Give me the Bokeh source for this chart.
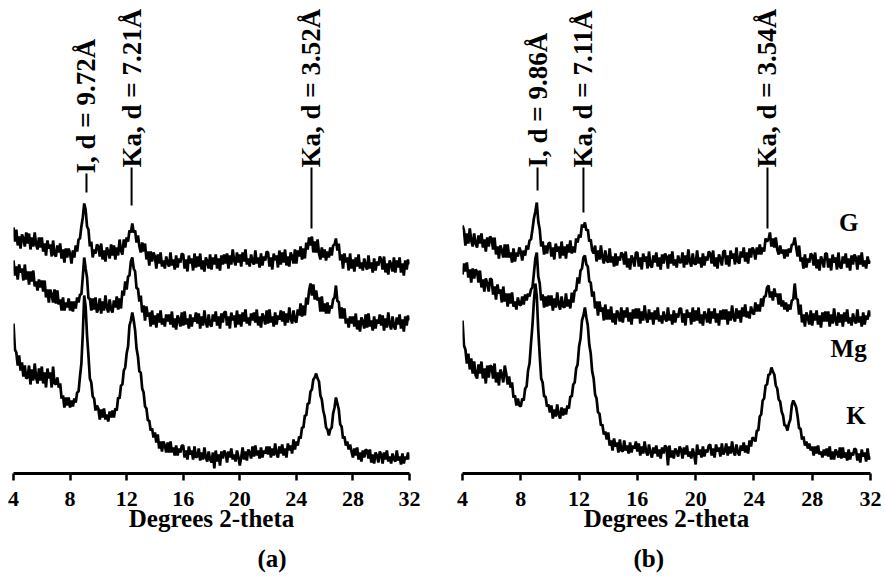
import numpy as np
from bokeh.plotting import figure
from bokeh.layouts import row
from bokeh.models import Range1d, FixedTicker, Title
from bokeh.embed import file_html
from bokeh.resources import INLINE
from bokeh.core.properties import value

# sampling grid, degrees 2-theta (step 0.1, 4.0 ... 32.0)
two_theta = np.round(np.arange(4.0, 32.0001, 0.1), 1)

# ---- panel (a): intensities (arbitrary units) ----
g_a = [246, 232, 244, 228, 237, 225, 239, 235, 227, 241,
       230, 240, 224, 236, 227, 241, 229, 224, 236, 226,
       236, 222, 230, 218, 233, 225, 229, 217, 233, 219,
       217, 228, 221, 230, 215, 224, 211, 225, 216, 225,
       220, 210, 223, 216, 228, 222, 234, 235, 247, 256,
       270, 264, 247, 244, 227, 232, 216, 224, 220, 229,
       227, 217, 230, 214, 223, 212, 226, 222, 215, 229,
       218, 228, 214, 226, 218, 234, 223, 219, 234, 226,
       236, 232, 243, 241, 250, 241, 243, 231, 238, 227,
       221, 231, 222, 230, 214, 222, 208, 222, 212, 221,
       217, 205, 219, 210, 221, 207, 213, 205, 217, 210,
       207, 221, 208, 214, 204, 218, 206, 215, 211, 220,
       219, 205, 214, 202, 218, 210, 215, 203, 220, 206,
       217, 207, 220, 204, 213, 202, 216, 212, 205, 219,
       204, 216, 209, 219, 205, 215, 203, 218, 209, 219,
       210, 220, 205, 218, 209, 224, 213, 208, 221, 211,
       219, 207, 221, 212, 224, 209, 215, 207, 219, 212,
       209, 223, 210, 216, 206, 220, 208, 217, 213, 222,
       221, 207, 216, 204, 220, 213, 218, 206, 223, 209,
       221, 211, 224, 208, 217, 207, 221, 217, 210, 224,
       210, 223, 217, 227, 214, 225, 215, 231, 224, 236,
       228, 237, 221, 232, 221, 234, 220, 214, 226, 216,
       224, 213, 222, 216, 226, 218, 228, 229, 235, 223,
       230, 213, 219, 205, 220, 211, 216, 203, 220, 205,
       214, 202, 216, 207, 219, 205, 211, 203, 215, 208,
       204, 218, 205, 211, 201, 215, 203, 212, 208, 217,
       214, 204, 217, 201, 210, 199, 213, 209, 202, 216,
       201, 213, 206, 216, 201, 210, 198, 213, 204, 214,
       209]
mg_a = [213, 198, 207, 194, 209, 201, 205, 193, 209, 194,
        202, 189, 202, 192, 203, 187, 192, 183, 194, 186,
        193, 182, 193, 176, 184, 171, 184, 179, 171, 184,
        170, 183, 169, 174, 163, 176, 163, 171, 166, 175,
        163, 172, 162, 172, 165, 176, 171, 179, 179, 197,
        216, 205, 196, 175, 175, 163, 175, 164, 176, 161,
        165, 175, 160, 172, 163, 178, 166, 161, 174, 164,
        161, 173, 166, 177, 164, 175, 165, 183, 178, 192,
        184, 197, 198, 212, 216, 205, 202, 185, 185, 172,
        178, 161, 168, 153, 167, 157, 161, 147, 163, 149,
        158, 146, 160, 151, 163, 149, 155, 147, 159, 152,
        159, 149, 162, 146, 155, 144, 158, 154, 147, 161,
        148, 162, 149, 155, 145, 159, 147, 156, 152, 161,
        150, 160, 145, 157, 148, 163, 151, 146, 159, 149,
        147, 159, 152, 162, 148, 157, 145, 160, 151, 161,
        162, 148, 157, 145, 161, 153, 158, 146, 163, 149,
        159, 147, 161, 152, 164, 150, 156, 148, 160, 153,
        161, 151, 164, 148, 157, 146, 160, 156, 149, 163,
        150, 164, 151, 157, 147, 161, 149, 158, 154, 163,
        152, 162, 148, 160, 151, 166, 155, 150, 163, 153,
        151, 164, 158, 170, 157, 168, 158, 176, 169, 183,
        190, 178, 189, 174, 183, 173, 176, 162, 177, 162,
        170, 160, 171, 160, 168, 165, 174, 176, 188, 172,
        172, 155, 166, 155, 165, 150, 155, 146, 157, 150,
        157, 147, 160, 144, 153, 142, 156, 152, 145, 159,
        146, 160, 147, 153, 143, 157, 145, 154, 150, 159,
        148, 158, 143, 155, 146, 161, 149, 144, 157, 147,
        144, 156, 149, 159, 145, 154, 142, 157, 148, 158,
        153]
k_a = [150, 124, 121, 108, 118, 103, 111, 97, 108, 95,
       96, 108, 89, 104, 93, 110, 96, 90, 105, 93,
       107, 90, 101, 86, 105, 95, 101, 86, 107, 90,
       89, 96, 86, 90, 75, 78, 66, 76, 68, 76,
       66, 73, 67, 75, 71, 81, 82, 97, 110, 140,
       178, 167, 138, 118, 95, 91, 77, 75, 63, 68,
       65, 54, 64, 56, 65, 54, 59, 52, 62, 56,
       63, 56, 65, 63, 76, 75, 88, 89, 103, 106,
       120, 127, 148, 153, 161, 153, 143, 125, 117, 102,
       101, 85, 81, 67, 65, 53, 53, 43, 45, 36,
       41, 31, 39, 25, 32, 22, 32, 28, 21, 31,
       21, 32, 21, 26, 18, 28, 18, 25, 21, 28,
       28, 16, 23, 14, 27, 19, 23, 14, 27, 16,
       17, 25, 13, 21, 14, 26, 16, 12, 22, 14,
       11, 21, 5, 23, 12, 19, 8, 22, 15, 23,
       20, 11, 22, 16, 25, 14, 19, 12, 23, 17,
       8, 16, 26, 14, 22, 13, 24, 21, 15, 27,
       17, 28, 18, 23, 15, 26, 16, 23, 20, 27,
       19, 27, 16, 25, 18, 30, 20, 16, 27, 20,
       29, 18, 25, 16, 30, 23, 28, 20, 34, 24,
       32, 28, 37, 35, 46, 46, 58, 58, 70, 70,
       82, 84, 94, 96, 100, 95, 92, 78, 74, 63,
       57, 46, 44, 38, 44, 46, 60, 66, 76, 70,
       64, 49, 47, 35, 37, 28, 32, 24, 29, 22,
       16, 25, 18, 26, 14, 21, 12, 23, 16, 24,
       23, 15, 24, 11, 19, 10, 21, 18, 11, 22,
       19, 10, 21, 14, 23, 12, 17, 10, 20, 14,
       12, 23, 13, 17, 9, 20, 10, 17, 14, 21,
       14]

# ---- panel (b) ----
g_b = [248, 243, 228, 240, 230, 245, 233, 227, 240, 230,
       226, 238, 230, 240, 226, 234, 222, 236, 227, 237,
       235, 224, 236, 219, 227, 215, 228, 223, 216, 229,
       216, 229, 216, 221, 211, 225, 212, 221, 217, 226,
       222, 213, 223, 218, 228, 224, 233, 234, 244, 255,
       262, 271, 252, 244, 227, 232, 219, 228, 220, 230,
       231, 217, 226, 214, 230, 222, 227, 215, 232, 218,
       227, 215, 229, 221, 233, 220, 227, 221, 235, 231,
       239, 236, 249, 246, 251, 243, 244, 232, 234, 223,
       220, 228, 212, 223, 214, 228, 216, 210, 223, 213,
       211, 225, 211, 217, 207, 220, 208, 217, 213, 221,
       219, 209, 222, 206, 215, 204, 218, 214, 207, 221,
       221, 207, 216, 204, 220, 212, 217, 205, 222, 208,
       206, 218, 211, 221, 207, 216, 204, 219, 210, 220,
       217, 205, 219, 210, 222, 208, 214, 206, 218, 211,
       211, 221, 206, 218, 209, 224, 212, 207, 220, 210,
       209, 223, 210, 216, 206, 220, 208, 217, 213, 222,
       220, 210, 223, 207, 216, 205, 219, 215, 208, 222,
       223, 209, 218, 207, 223, 215, 220, 209, 226, 212,
       210, 222, 216, 226, 212, 221, 210, 225, 216, 226,
       223, 214, 226, 219, 229, 219, 226, 222, 235, 232,
       234, 241, 227, 235, 226, 236, 224, 219, 228, 220,
       224, 215, 224, 217, 225, 221, 229, 229, 236, 226,
       217, 228, 212, 216, 205, 219, 206, 215, 211, 220,
       218, 208, 221, 205, 214, 203, 217, 213, 206, 220,
       220, 206, 215, 203, 219, 211, 216, 204, 221, 207,
       205, 217, 210, 220, 206, 215, 203, 218, 209, 219,
       216, 204, 218, 209, 221, 207, 213, 205, 217, 210,
       213]
mg_b = [199, 210, 202, 211, 196, 204, 191, 205, 195, 204,
        202, 191, 203, 186, 194, 182, 195, 190, 182, 195,
        194, 179, 187, 174, 189, 180, 184, 171, 187, 172,
        180, 167, 180, 170, 181, 167, 172, 164, 176, 169,
        168, 177, 169, 179, 173, 180, 177, 184, 186, 200,
        215, 221, 197, 190, 173, 179, 166, 177, 167, 178,
        168, 178, 163, 175, 166, 181, 169, 164, 177, 167,
        166, 180, 167, 174, 165, 181, 171, 183, 183, 196,
        190, 203, 205, 216, 218, 209, 207, 192, 191, 177,
        182, 165, 172, 158, 172, 162, 166, 153, 169, 154,
        164, 154, 167, 151, 160, 149, 163, 159, 152, 166,
        151, 163, 156, 166, 152, 161, 149, 164, 155, 165,
        155, 165, 150, 162, 153, 168, 156, 151, 164, 154,
        161, 149, 163, 154, 166, 152, 158, 150, 162, 155,
        152, 166, 153, 159, 149, 163, 151, 160, 156, 165,
        165, 151, 160, 148, 164, 156, 161, 149, 166, 152,
        163, 153, 166, 150, 159, 148, 162, 158, 151, 165,
        150, 162, 155, 165, 151, 160, 148, 163, 154, 164,
        154, 164, 149, 162, 153, 168, 156, 152, 165, 155,
        163, 151, 166, 157, 169, 156, 162, 155, 167, 161,
        159, 171, 162, 169, 162, 175, 167, 177, 177, 186,
        188, 176, 182, 173, 185, 177, 180, 169, 180, 167,
        173, 164, 171, 162, 169, 164, 173, 174, 190, 175,
        174, 159, 169, 151, 159, 147, 161, 156, 149, 163,
        148, 160, 153, 163, 149, 158, 146, 161, 152, 162,
        152, 162, 147, 159, 150, 165, 153, 148, 161, 151,
        159, 147, 161, 152, 164, 150, 156, 148, 160, 153,
        150, 164, 151, 157, 147, 161, 149, 158, 154, 163,
        157]
k_b = [153, 128, 124, 110, 120, 104, 115, 100, 112, 98,
       95, 109, 100, 112, 95, 105, 90, 108, 96, 108,
       107, 95, 110, 91, 101, 88, 104, 99, 91, 108,
       100, 89, 97, 86, 91, 76, 78, 68, 75, 68,
       67, 75, 73, 85, 87, 103, 110, 130, 148, 172,
       190, 177, 143, 118, 95, 91, 77, 77, 67, 69,
       61, 68, 55, 64, 57, 69, 59, 55, 66, 58,
       65, 59, 68, 65, 77, 77, 89, 91, 105, 109,
       127, 135, 153, 158, 166, 156, 148, 129, 120, 102,
       95, 79, 75, 61, 60, 48, 49, 39, 42, 34,
       41, 28, 33, 23, 35, 27, 31, 21, 34, 23,
       22, 33, 23, 28, 20, 31, 21, 28, 25, 32,
       22, 30, 18, 27, 20, 32, 22, 18, 29, 21,
       16, 26, 20, 28, 17, 24, 15, 26, 20, 28,
       26, 8, 28, 16, 23, 15, 25, 22, 17, 27,
       24, 15, 26, 19, 28, 17, 22, 15, 25, 19,
       9, 29, 19, 24, 16, 27, 17, 24, 21, 28,
       29, 18, 25, 16, 29, 22, 26, 17, 30, 19,
       22, 30, 18, 27, 20, 32, 22, 18, 29, 21,
       18, 28, 23, 31, 21, 28, 20, 33, 27, 36,
       35, 32, 43, 43, 57, 59, 73, 75, 88, 89,
       99, 99, 106, 102, 99, 88, 85, 74, 72, 62,
       58, 48, 48, 43, 50, 54, 68, 73, 70, 66,
       57, 45, 45, 34, 37, 28, 32, 25, 30, 23,
       27, 18, 27, 20, 28, 19, 22, 16, 24, 18,
       25, 17, 27, 14, 22, 14, 24, 21, 16, 26,
       15, 26, 16, 21, 13, 24, 14, 21, 18, 25,
       24, 13, 20, 11, 24, 17, 21, 12, 25, 14,
       17]

# peak markers
peaks_a = [9.16, 12.35, 25.07]
labels_a = ["I, d = 9.72Å", "Ka, d = 7.21Å", "Ka, d = 3.52Å"]
peaks_b = [9.15, 12.3, 24.93]
labels_b = ["I, d = 9.86Å", "Ka, d = 7.11Å", "Ka, d = 3.54Å"]

series_names = ["G", "Mg", "K"]
x_ticks = [4, 8, 12, 16, 20, 24, 28, 32]

FONT = "Liberation Serif"


def make_panel(width, left, right, series, peaks, labels, label_start,
               seg_bottoms, tag, tag_offset, name_pos=None):
    p = figure(width=width, height=583, output_backend="svg", title=None,
               toolbar_location=None, y_axis_type=None,
               x_range=Range1d(4, 32), y_range=Range1d(0, 473),
               min_border_left=left, min_border_right=right,
               min_border_top=0, min_border_bottom=110)
    p.outline_line_color = None
    p.xgrid.visible = False
    p.ygrid.visible = False
    p.background_fill_color = "white"
    p.border_fill_color = "white"

    n = min(len(two_theta), *[len(s) for s in series])
    for ys in series:
        p.line(two_theta[:n], ys[:n], line_color="black", line_width=2.7)

    # leader lines and vertical labels
    p.segment(x0=peaks, y0=seg_bottoms, x1=peaks, y1=label_start,
              line_color="black", line_width=2)
    p.text(x=peaks, y=label_start, text=labels, angle=np.pi / 2,
           text_align="left", text_baseline="alphabetic",
           text_font=value(FONT), text_font_style="bold",
           text_font_size="27px", text_color="black")

    if name_pos is not None:
        xs, ys = name_pos
        p.text(x=xs, y=ys, text=series_names, text_align="center",
               text_baseline="middle", text_font=value(FONT),
               text_font_style="bold", text_font_size="25px",
               text_color="black")

    ax = p.xaxis[0]
    ax.ticker = FixedTicker(ticks=x_ticks)
    ax.minor_tick_line_color = None
    ax.major_tick_in = 0
    ax.major_tick_out = 7
    ax.major_tick_line_width = 2.5
    ax.axis_line_width = 3
    ax.major_label_standoff = 11
    ax.major_label_text_font = FONT
    ax.major_label_text_font_style = "bold"
    ax.major_label_text_font_size = "22px"
    ax.major_label_text_color = "black"
    ax.axis_label = "Degrees 2-theta"
    ax.axis_label_standoff = -4
    ax.axis_label_text_font = FONT
    ax.axis_label_text_font_style = "bold"
    ax.axis_label_text_font_size = "25px"
    ax.axis_label_text_color = "black"

    p.add_layout(Title(text=tag, align="left", offset=tag_offset,
                       text_font=FONT, text_font_style="bold",
                       text_font_size="25px", text_color="black",
                       standoff=16), "below")
    return p


pa = make_panel(443, 13, 34, [g_a, mg_a, k_a], peaks_a, labels_a,
                [300, 306, 306], [281, 268, 245], "(a)", 244)
pb = make_panel(442, 19, 15, [g_b, mg_b, k_b], peaks_b, labels_b,
                [306, 306, 306], [283, 261, 245], "(b)", 171,
                name_pos=([30.5, 30.5, 31.0], [251, 125, 58]))

layout = row(pa, pb)
open("out.html", "w").write(file_html(layout, INLINE))
